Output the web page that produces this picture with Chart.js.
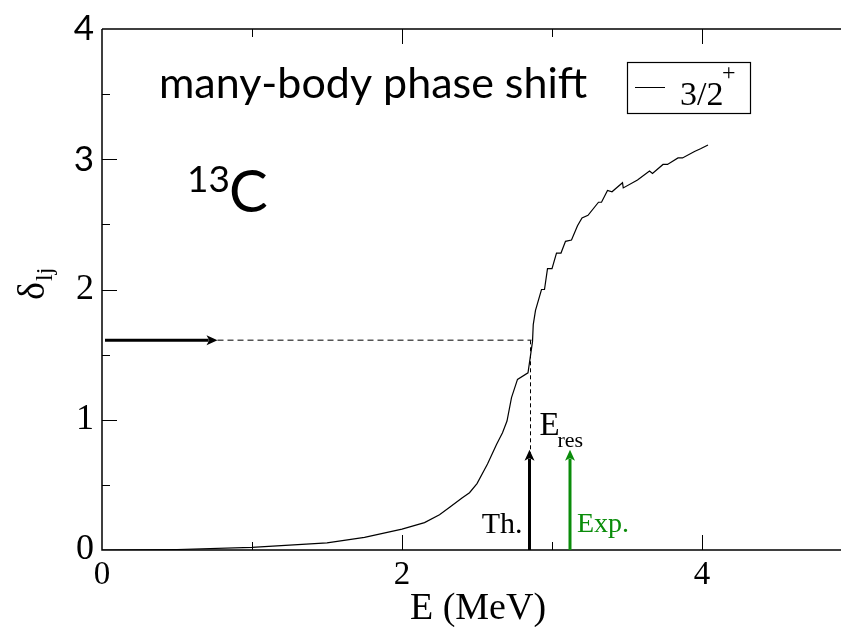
<!DOCTYPE html>
<html>
<head>
<meta charset="utf-8">
<script src="https://cdn.jsdelivr.net/npm/chart.js@4.4.1/dist/chart.umd.min.js"></script>
<style>
  body { margin: 0; background: #fff; overflow: hidden; }
  #chartContainer { display: block; }
</style>
</head>
<body>
<canvas id="chartContainer" width="841" height="627"></canvas>
<script>
// phase shift curve
const energy = [0, 0.5, 1.0, 1.5, 1.75, 2.0, 2.15, 2.25, 2.32, 2.4, 2.45, 2.5, 2.57, 2.63, 2.67, 2.70, 2.73, 2.77,
    2.84, 2.87, 2.875, 2.89, 2.93, 2.95, 2.97, 3.0, 3.03, 3.06, 3.09, 3.13, 3.17, 3.2, 3.24,
    3.31, 3.33, 3.37, 3.40, 3.47, 3.475, 3.57, 3.65, 3.67, 3.74, 3.77, 3.84, 3.87, 3.95, 3.99, 4.04];
const phase = [0, 0.004, 0.02, 0.055, 0.097, 0.16, 0.21, 0.27, 0.33, 0.4, 0.44, 0.51, 0.66, 0.81, 0.9, 0.99, 1.17, 1.31,
    1.36, 1.60, 1.73, 1.84, 2.0, 2.0, 2.16, 2.16, 2.28, 2.28, 2.37, 2.38, 2.49, 2.55, 2.57,
    2.67, 2.67, 2.76, 2.75, 2.82, 2.78, 2.84, 2.91, 2.89, 2.96, 2.96, 3.01, 3.01, 3.06, 3.08, 3.11];

const xMajor = [0, 2, 4];
const xMinor = [1, 3];
const yMajor = [0, 1, 2, 3, 4];
const yMinor = [0.5, 1.5, 2.5, 3.5];

// resonance markers
const resPhase = 1.61;          // pi/2 level
const phaseArrowX = [0.02, 0.77];
const markerEnergy = [2.85, 3.12]; // Th., Exp.
const markerLabel = ["Th.", "Exp."];
const markerColor = ["#000000", "#0a8c0a"];
const markerTop = 0.77;

const serif = "'Liberation Serif', 'DejaVu Serif', serif";
const sans = "Lato, 'Open Sans', sans-serif";

function arrow(ctx, x0, y0, x1, y1, color, width) {
    const ang = Math.atan2(y1 - y0, x1 - x0);
    const len = 11, half = 5;
    ctx.strokeStyle = color;
    ctx.fillStyle = color;
    ctx.lineWidth = width;
    ctx.beginPath();
    ctx.moveTo(x0, y0);
    ctx.lineTo(x1 - Math.cos(ang) * len * 0.8, y1 - Math.sin(ang) * len * 0.8);
    ctx.stroke();
    ctx.beginPath();
    ctx.moveTo(x1, y1);
    ctx.lineTo(x1 - Math.cos(ang) * len - Math.sin(ang) * half, y1 - Math.sin(ang) * len + Math.cos(ang) * half);
    ctx.lineTo(x1 - Math.cos(ang) * len * 0.75, y1 - Math.sin(ang) * len * 0.75);
    ctx.lineTo(x1 - Math.cos(ang) * len + Math.sin(ang) * half, y1 - Math.sin(ang) * len - Math.cos(ang) * half);
    ctx.closePath();
    ctx.fill();
}

const overlay = {
    id: "overlay",
    afterDatasetsDraw(chart) {
        const { ctx, chartArea: a, scales } = chart;
        const x = scales.x, y = scales.y;
        ctx.save();

        // frame: left, bottom, top + inward ticks
        ctx.strokeStyle = "#000";
        ctx.lineWidth = 1.5;
        ctx.beginPath();
        ctx.moveTo(a.left, a.top);
        ctx.lineTo(chart.width, a.top);
        ctx.moveTo(a.left, a.top);
        ctx.lineTo(a.left, a.bottom);
        ctx.lineTo(chart.width, a.bottom);
        ctx.stroke();
        ctx.lineWidth = 1;
        ctx.beginPath();
        xMajor.forEach((v) => {
            const px = Math.round(x.getPixelForValue(v)) + 0.5;
            if (v === 0) return;
            ctx.moveTo(px, a.bottom); ctx.lineTo(px, a.bottom - 15);
            ctx.moveTo(px, a.top); ctx.lineTo(px, a.top + 15);
        });
        xMinor.forEach((v) => {
            const px = Math.round(x.getPixelForValue(v)) + 0.5;
            ctx.moveTo(px, a.bottom); ctx.lineTo(px, a.bottom - 8);
            ctx.moveTo(px, a.top); ctx.lineTo(px, a.top + 8);
        });
        yMajor.forEach((v) => {
            const py = Math.round(y.getPixelForValue(v)) + 0.5;
            if (v === 0 || v === 4) return;
            ctx.moveTo(a.left, py); ctx.lineTo(a.left + 15, py);
        });
        yMinor.forEach((v) => {
            const py = Math.round(y.getPixelForValue(v)) + 0.5;
            ctx.moveTo(a.left, py); ctx.lineTo(a.left + 8, py);
        });
        ctx.stroke();

        // dashed guides
        const yr = y.getPixelForValue(resPhase);
        const xth = x.getPixelForValue(markerEnergy[0]);
        ctx.setLineDash([6, 4]);
        ctx.strokeStyle = "#555";
        ctx.lineWidth = 1.5;
        ctx.beginPath();
        ctx.moveTo(x.getPixelForValue(phaseArrowX[1]), yr);
        ctx.lineTo(xth + 2, yr);
        ctx.stroke();
        ctx.setLineDash([4, 3]);
        ctx.strokeStyle = "#000";
        ctx.lineWidth = 1;
        ctx.beginPath();
        ctx.moveTo(xth + 1, yr);
        ctx.lineTo(xth + 1, y.getPixelForValue(markerTop) + 4);
        ctx.stroke();
        ctx.setLineDash([]);

        // arrows
        arrow(ctx, x.getPixelForValue(phaseArrowX[0]), yr, x.getPixelForValue(phaseArrowX[1]), yr, "#000", 3);
        markerEnergy.forEach((e, i) => {
            const px = x.getPixelForValue(e);
            arrow(ctx, px, y.getPixelForValue(0), px, y.getPixelForValue(markerTop), markerColor[i], 3);
        });

        // marker labels
        ctx.textBaseline = "alphabetic";
        ctx.fillStyle = "#000";
        ctx.font = "30px " + serif;
        ctx.textAlign = "right";
        ctx.fillText(markerLabel[0], x.getPixelForValue(markerEnergy[0]) - 7, 533);
        ctx.fillStyle = markerColor[1];
        ctx.font = "28px " + serif;
        ctx.textAlign = "left";
        ctx.fillText(markerLabel[1], x.getPixelForValue(markerEnergy[1]) + 7, 532);

        ctx.fillStyle = "#000";
        ctx.font = "33px " + serif;
        ctx.fillText("E", xth + 10, 435);
        ctx.font = "22px " + serif;
        ctx.fillText("res", xth + 28, 447);

        // texts
        ctx.font = "42px " + sans;
        const w = ctx.measureText("many-body phase shift").width;
        ctx.font = (42 * 428 / w).toFixed(1) + "px " + sans;
        ctx.fillText("many-body phase shift", 159, 98);
        ctx.font = "37px " + sans;
        ctx.fillText("13", 187, 192);
        ctx.font = "58px " + sans;
        ctx.fillText("C", 229, 212);

        // legend
        ctx.strokeStyle = "#000";
        ctx.lineWidth = 1.2;
        ctx.strokeRect(627.5, 62.5, 123, 51);
        ctx.lineWidth = 1;
        ctx.beginPath();
        ctx.moveTo(635, 87.5); ctx.lineTo(665, 87.5);
        ctx.stroke();
        ctx.font = "34px " + serif;
        ctx.fillText("3/2", 680, 105);
        ctx.font = "24px " + serif;
        ctx.fillText("+", 722, 80);

        // y axis title
        ctx.translate(44, 288);
        ctx.rotate(-Math.PI / 2);
        ctx.textAlign = "left";
        ctx.font = "38px " + serif;
        ctx.fillText("\u03b4", -12, 0);
        ctx.font = "24px " + serif;
        ctx.fillText("lj", 7, 8);
        ctx.restore();

        // x axis title
        ctx.save();
        ctx.fillStyle = "#000";
        ctx.font = "38px " + serif;
        ctx.textAlign = "center";
        ctx.fillText("E (MeV)", 478, 619);
        ctx.restore();
    }
};

const ctx = document.getElementById("chartContainer");
const chart = new Chart(ctx, {
    type: "line",
    data: {
        datasets: [
            {
                label: "3/2+",
                data: energy.map((e, i) => ({ x: e, y: phase[i] })),
                borderColor: "#000",
                borderWidth: 1.2,
                pointRadius: 0,
                tension: 0,
                fill: false,
            },
        ],
    },
    options: {
        responsive: false,
        animation: false,
        events: [],
        layout: { padding: { top: 25, right: 4, left: 0, bottom: 0 } },
        plugins: { legend: { display: false }, tooltip: { enabled: false } },
        scales: {
            x: {
                type: "linear",
                min: 0,
                max: 4.9,
                afterBuildTicks: (s) => { s.ticks = xMajor.map((v) => ({ value: v })); },
                afterFit: (s) => { s.height = 77; },
                grid: { drawOnChartArea: false, drawTicks: false },
                border: { display: false },
                ticks: {
                    color: "#000",
                    padding: 6,
                    maxRotation: 0,
                    font: { family: serif, size: 33 },
                },
            },
            y: {
                type: "linear",
                min: 0,
                max: 4,
                afterBuildTicks: (s) => { s.ticks = yMajor.map((v) => ({ value: v })); },
                afterFit: (s) => { s.width = 102; },
                grid: { drawOnChartArea: false, drawTicks: false },
                border: { display: false },
                ticks: {
                    color: "#000",
                    padding: 8,
                    font: (c) => (c.tick && c.tick.value >= 3
                        ? { family: sans, size: 35 }
                        : { family: serif, size: 36 }),
                },
            },
        },
    },
    plugins: [overlay],
});
</script>
</body>
</html>
